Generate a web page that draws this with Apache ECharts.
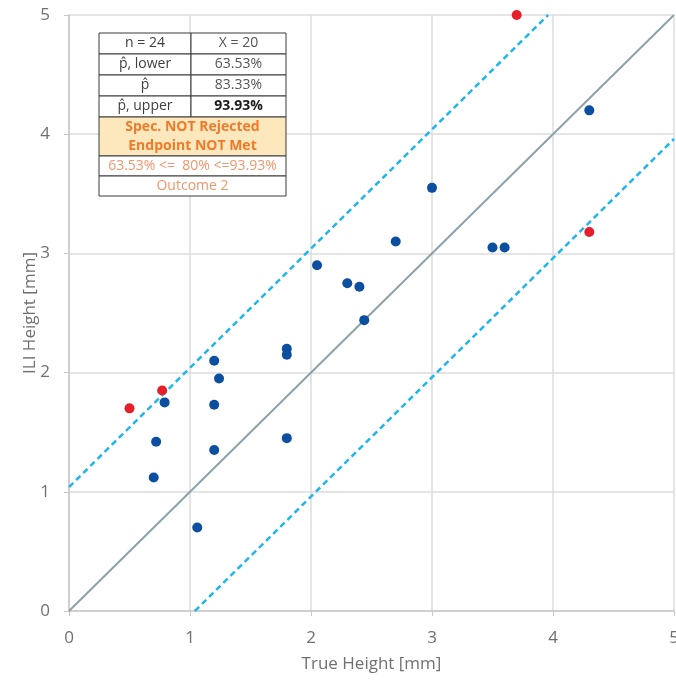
<!DOCTYPE html>
<html><head><meta charset="utf-8">
<script src="https://cdn.jsdelivr.net/npm/echarts@6/dist/echarts.min.js"></script>
<style>html,body{margin:0;padding:0;background:#fff}#c{width:676px;height:683px}</style>
</head><body><div id="c"></div>
<script>
var inSpec = [[0.79,1.75],[0.72,1.42],[0.70,1.12],[1.06,0.70],[1.20,2.10],[1.24,1.95],[1.20,1.73],[1.20,1.35],[1.80,2.20],[1.80,2.15],[1.80,1.45],[2.05,2.90],[2.30,2.75],[2.40,2.72],[2.44,2.44],[2.70,3.10],[3.00,3.55],[3.50,3.05],[3.60,3.05],[4.30,4.20]];
var outSpec = [[0.50,1.70],[0.77,1.85],[3.70,5.00],[4.30,3.18]];
var identityLine = [[0,0],[5,5]];
var upperLimit = [[0,1.04],[3.96,5]];
var lowerLimit = [[1.04,0],[5,3.96]];
var axisTicks = [0,1,2,3,4,5];
var tableRows = [["n = 24","X = 20"],["p\u0302, lower","63.53%"],["p\u0302","83.33%"],["p\u0302, upper","93.93%"]];
var verdictLines = ["Spec. NOT Rejected","Endpoint NOT Met"];
var footerRows = ["63.53% <=  80% <=93.93%","Outcome 2"];

var FONT = '"Open Sans", "Noto Sans", sans-serif';
var chart = echarts.init(document.getElementById('c'));

var g = [];
var tx = 99, tw = 187, cw = 92, y0 = 33, rh = 21;
var border = '#3a3a3a';
var yy = y0;
function R(x,y,w,h,fill){ g.push({type:'rect', z:100, shape:{x:x,y:y,width:w,height:h}, style:{fill:fill,stroke:border,lineWidth:1}}); }
function T(x,y,t,fill,font){ g.push({type:'text', z:101, x:x, y:y, style:{text:t, fill:fill, font:font, align:'center', verticalAlign:'middle'}}); }
tableRows.forEach(function(r, i){
  R(tx,yy,cw,rh,'#fff');
  R(tx+cw,yy,tw-cw,rh,'#fff');
  T(tx+cw/2, yy+rh/2, r[0], '#404040', '14px '+FONT);
  T(tx+cw+(tw-cw)/2, yy+rh/2, r[1], i===3?'#1a1a1a':'#555', (i===3?'bold ':'')+'14px '+FONT);
  yy += rh;
});
var vh = 39;
R(tx,yy,tw,vh,'#fde8bd');
verdictLines.forEach(function(t, i){
  T(tx+tw/2, yy+10+i*19, t, '#f07a2a', 'bold 14px '+FONT);
});
yy += vh;
footerRows.forEach(function(t){
  R(tx,yy,tw,20,'#fff');
  T(tx+tw/2, yy+10, t, '#f4956a', '14px '+FONT);
  yy += 20;
});

var axisCommon = {
  min: axisTicks[0], max: axisTicks[axisTicks.length-1], interval: 1,
  nameMoveOverlap: false,
  axisLine: {show:true, onZero:false, lineStyle:{color:'#c8c8c8', width:1.5}},
  axisTick: {show:true, length:5, lineStyle:{color:'#c8c8c8'}},
  splitLine: {show:true, lineStyle:{color:'#dcdcdc', width:1.5}},
  nameTextStyle: {color:'#707070', fontSize:17, fontFamily:FONT}
};

chart.setOption({
  animation:false,
  grid:{left:69, right:2, top:15, bottom:72, containLabel:false, outerBoundsMode:'none'},
  xAxis: Object.assign({type:'value', name:'True Height [mm]', nameLocation:'middle', nameGap:45,
    axisLabel:{color:'#707070', fontSize:17, fontFamily:FONT, margin:19}}, axisCommon),
  yAxis: Object.assign({type:'value', name:'ILI Height [mm]', nameLocation:'middle', nameGap:30,
    axisLabel:{color:'#707070', fontSize:17, fontFamily:FONT, margin:19}}, axisCommon),
  series: [
    {type:'line', data:identityLine, symbol:'none', lineStyle:{color:'#8da2a8', width:2}, z:2},
    {type:'line', data:upperLimit, symbol:'none', lineStyle:{color:'#1fb5ef', width:2.5, type:[6,4]}, z:2},
    {type:'line', data:lowerLimit, symbol:'none', lineStyle:{color:'#1fb5ef', width:2.5, type:[6,4]}, z:2},
    {type:'scatter', data:inSpec, symbolSize:10, itemStyle:{color:'#0c4e9f', opacity:1}, z:3},
    {type:'scatter', data:outSpec, symbolSize:10, itemStyle:{color:'#e5202a', opacity:1}, z:3}
  ],
  graphic: g
});
</script></body></html>
